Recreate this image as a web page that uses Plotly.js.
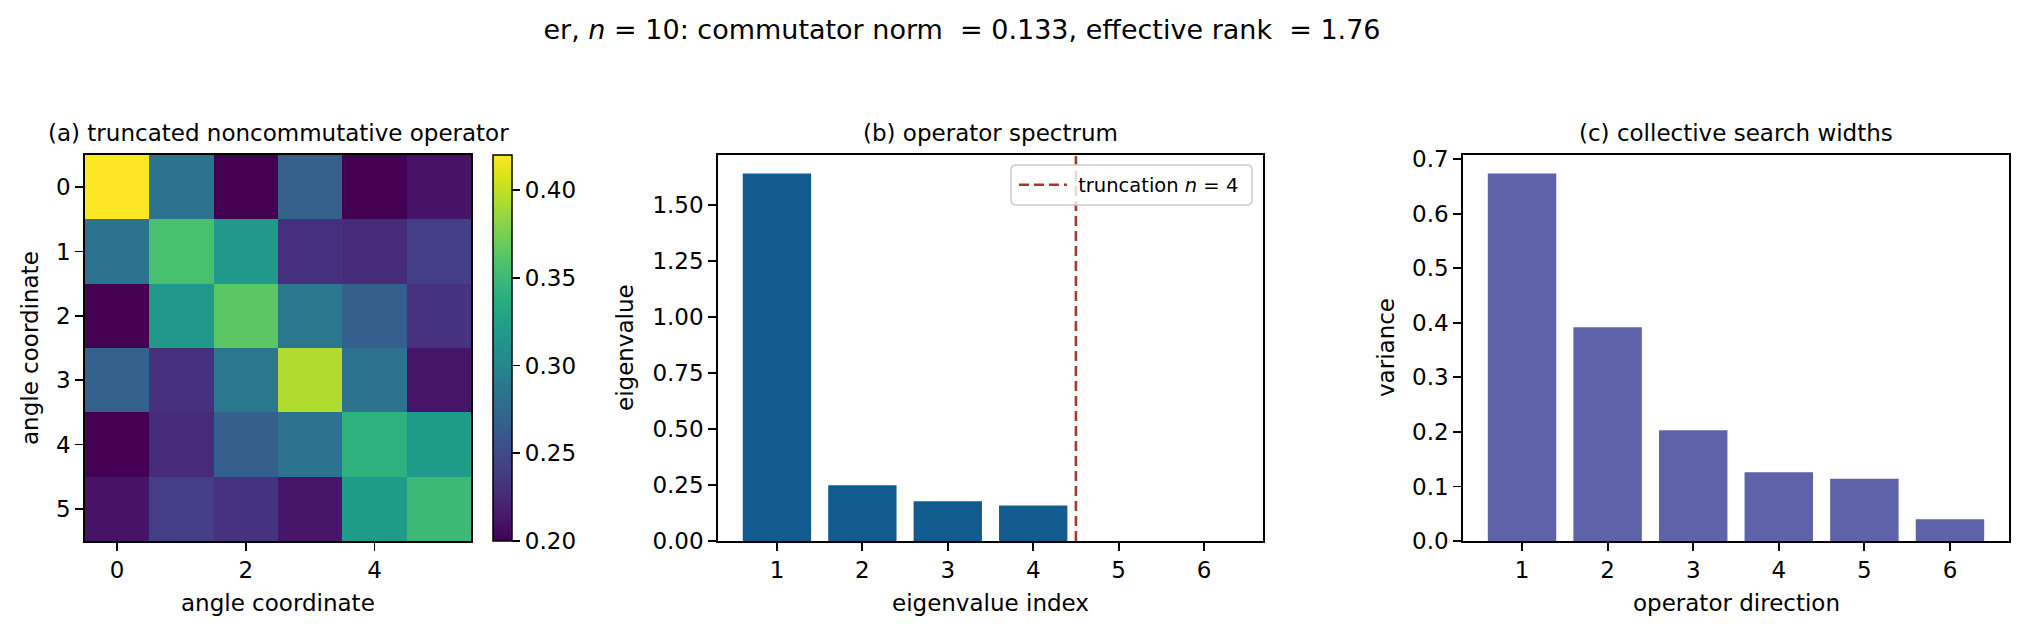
<!DOCTYPE html>
<html>
<head>
<meta charset="utf-8">
<script src="https://cdn.plot.ly/plotly-3.0.1.min.js"></script>
<style>html,body{margin:0;padding:0;background:#fff;}</style>
</head>
<body>
<div id="chart" style="width:2028px;height:636px;"></div>
<script>
// ---- data ----
const heatCoords = [0, 1, 2, 3, 4, 5];
const heatZ = [
  [0.420, 0.284, 0.200, 0.268, 0.200, 0.211],
  [0.284, 0.356, 0.318, 0.229, 0.226, 0.240],
  [0.200, 0.318, 0.364, 0.287, 0.266, 0.231],
  [0.268, 0.229, 0.287, 0.394, 0.284, 0.212],
  [0.200, 0.226, 0.266, 0.284, 0.341, 0.321],
  [0.211, 0.240, 0.231, 0.212, 0.321, 0.350]
];
const heatXTicks = [0, 2, 4];
const cbTicks = [0.20, 0.25, 0.30, 0.35, 0.40];

const eigIndex = [1, 2, 3, 4, 5, 6];
const eigValues = [1.641, 0.249, 0.177, 0.158, 0.0, 0.0];
const eigTicks = [0.00, 0.25, 0.50, 0.75, 1.00, 1.25, 1.50];
const truncN = 4;

const dirIndex = [1, 2, 3, 4, 5, 6];
const dirVariance = [0.674, 0.392, 0.203, 0.126, 0.114, 0.040];
const varTicks = [0.0, 0.1, 0.2, 0.3, 0.4, 0.5, 0.6, 0.7];

// ---- helpers ----
const W = 2028, H = 636;
const px = x => x / W;
const py = y => 1 - y / H;
const FONT = 'DejaVu Sans';
const barRange = idx => {
  const lo = Math.min(...idx) - 0.4, hi = Math.max(...idx) + 0.4;
  const pad = 0.05 * (hi - lo);
  return [lo - pad, hi + pad];
};
const axisCommon = {
  showgrid: false, zeroline: false, showline: true, mirror: true,
  linecolor: 'black', linewidth: 1.8, ticks: 'outside', ticklen: 8,
  tickwidth: 1.8, tickcolor: 'black', tickfont: {family: FONT, size: 23, color: 'black'},
  fixedrange: true
};
const yTop = 155, yBot = 541;

// legend frame (rounded box)
const lb = {x0: px(1011), x1: px(1252), y0: py(205), y1: py(165)};
const rx = 5 / W, ry = 5 / H;
const framePath =
  `M${lb.x0 + rx},${lb.y1} L${lb.x1 - rx},${lb.y1} Q${lb.x1},${lb.y1} ${lb.x1},${lb.y1 - ry} ` +
  `L${lb.x1},${lb.y0 + ry} Q${lb.x1},${lb.y0} ${lb.x1 - rx},${lb.y0} ` +
  `L${lb.x0 + rx},${lb.y0} Q${lb.x0},${lb.y0} ${lb.x0},${lb.y0 + ry} ` +
  `L${lb.x0},${lb.y1 - ry} Q${lb.x0},${lb.y1} ${lb.x0 + rx},${lb.y1} Z`;

const traces = [
  {
    type: 'heatmap', x: heatCoords, y: heatCoords, z: heatZ,
    colorscale: 'Viridis', zmin: 0.20, zmax: 0.42,
    xaxis: 'x', yaxis: 'y', showlegend: false,
    colorbar: {
      x: px(493), xanchor: 'left', xpad: 0, thickness: 19,
      lenmode: 'fraction', len: (yBot - yTop) / H,
      y: py((yTop + yBot) / 2), yanchor: 'middle', ypad: 0,
      outlinewidth: 1.5, outlinecolor: 'black',
      ticks: 'outside', ticklen: 8, tickwidth: 1.8, tickcolor: 'black',
      tickvals: cbTicks, tickformat: '.2f',
      tickfont: {family: FONT, size: 23, color: 'black'}
    }
  },
  {
    type: 'bar', x: eigIndex, y: eigValues, width: 0.8,
    marker: {color: '#115b8e', line: {width: 0}},
    xaxis: 'x2', yaxis: 'y2', showlegend: false
  },
  {
    type: 'scatter', mode: 'lines',
    x: [truncN + 0.5, truncN + 0.5], y: [0, Math.max(...eigValues) * 1.05],
    line: {color: '#a8372e', width: 2.6, dash: '10px,5px'},
    name: '\u00a0truncation <i>n</i> = ' + truncN,
    xaxis: 'x2', yaxis: 'y2', showlegend: true
  },
  {
    type: 'bar', x: dirIndex, y: dirVariance, width: 0.8,
    marker: {color: '#5e63a9', line: {width: 0}},
    xaxis: 'x3', yaxis: 'y3', showlegend: false
  }
];

const layout = {
  width: W, height: H,
  margin: {l: 0, r: 0, t: 0, b: 0, pad: 0},
  paper_bgcolor: 'white', plot_bgcolor: 'white',
  font: {family: FONT, size: 23, color: 'black'},
  title: {
    text: 'er, <i>n</i> = 10: commutator norm \u00a0= 0.133, effective rank \u00a0= 1.76',
    x: px(962), xanchor: 'center', xref: 'paper',
    y: py(30), yanchor: 'middle', yref: 'paper',
    font: {family: FONT, size: 27, color: 'black'}
  },
  xaxis: Object.assign({}, axisCommon, {
    domain: [px(85), px(471)], anchor: 'y', range: [-0.5, 5.5],
    tickvals: heatXTicks
  }),
  yaxis: Object.assign({}, axisCommon, {
    domain: [py(yBot), py(yTop)], anchor: 'x', range: [5.5, -0.5],
    tickvals: heatCoords
  }),
  xaxis2: Object.assign({}, axisCommon, {
    domain: [px(718), px(1263)], anchor: 'y2', range: barRange(eigIndex),
    tickvals: eigIndex
  }),
  yaxis2: Object.assign({}, axisCommon, {
    domain: [py(yBot), py(yTop)], anchor: 'x2',
    range: [0, Math.max(...eigValues) * 1.05],
    tickvals: eigTicks, tickformat: '.2f'
  }),
  xaxis3: Object.assign({}, axisCommon, {
    domain: [px(1463), px(2009)], anchor: 'y3', range: barRange(dirIndex),
    tickvals: dirIndex
  }),
  yaxis3: Object.assign({}, axisCommon, {
    domain: [py(yBot), py(yTop)], anchor: 'x3',
    range: [0, Math.max(...dirVariance) * 1.05],
    tickvals: varTicks, tickformat: '.1f'
  }),
  showlegend: true,
  legend: {
    x: px(1014), xanchor: 'left', y: py(185), yanchor: 'middle',
    bgcolor: 'rgba(0,0,0,0)', borderwidth: 0, itemwidth: 48,
    font: {family: FONT, size: 19.5, color: 'black'}
  },
  shapes: [
    {type: 'path', xref: 'paper', yref: 'paper', path: framePath, layer: 'above',
     fillcolor: 'rgba(255,255,255,0.8)', line: {color: '#cccccc', width: 1.5}}
  ],
  annotations: [
    {text: '(a) truncated noncommutative operator', x: px(278), y: py(133), xref: 'paper', yref: 'paper',
     xanchor: 'center', yanchor: 'middle', showarrow: false, font: {family: FONT, size: 23}},
    {text: '(b) operator spectrum', x: px(990.5), y: py(133), xref: 'paper', yref: 'paper',
     xanchor: 'center', yanchor: 'middle', showarrow: false, font: {family: FONT, size: 23}},
    {text: '(c) collective search widths', x: px(1736), y: py(133), xref: 'paper', yref: 'paper',
     xanchor: 'center', yanchor: 'middle', showarrow: false, font: {family: FONT, size: 23}},
    {text: 'angle coordinate', x: px(278), y: py(603), xref: 'paper', yref: 'paper',
     xanchor: 'center', yanchor: 'middle', showarrow: false, font: {family: FONT, size: 23}},
    {text: 'eigenvalue index', x: px(990.5), y: py(603), xref: 'paper', yref: 'paper',
     xanchor: 'center', yanchor: 'middle', showarrow: false, font: {family: FONT, size: 23}},
    {text: 'operator direction', x: px(1736), y: py(603), xref: 'paper', yref: 'paper',
     xanchor: 'center', yanchor: 'middle', showarrow: false, font: {family: FONT, size: 23}},
    {text: 'angle coordinate', x: px(30), y: py(348), xref: 'paper', yref: 'paper', textangle: -90,
     xanchor: 'center', yanchor: 'middle', showarrow: false, font: {family: FONT, size: 23}},
    {text: 'eigenvalue', x: px(625), y: py(348), xref: 'paper', yref: 'paper', textangle: -90,
     xanchor: 'center', yanchor: 'middle', showarrow: false, font: {family: FONT, size: 23}},
    {text: 'variance', x: px(1386), y: py(348), xref: 'paper', yref: 'paper', textangle: -90,
     xanchor: 'center', yanchor: 'middle', showarrow: false, font: {family: FONT, size: 23}}
  ]
};

Plotly.newPlot('chart', traces, layout, {displayModeBar: false, staticPlot: true});
</script>
</body>
</html>
